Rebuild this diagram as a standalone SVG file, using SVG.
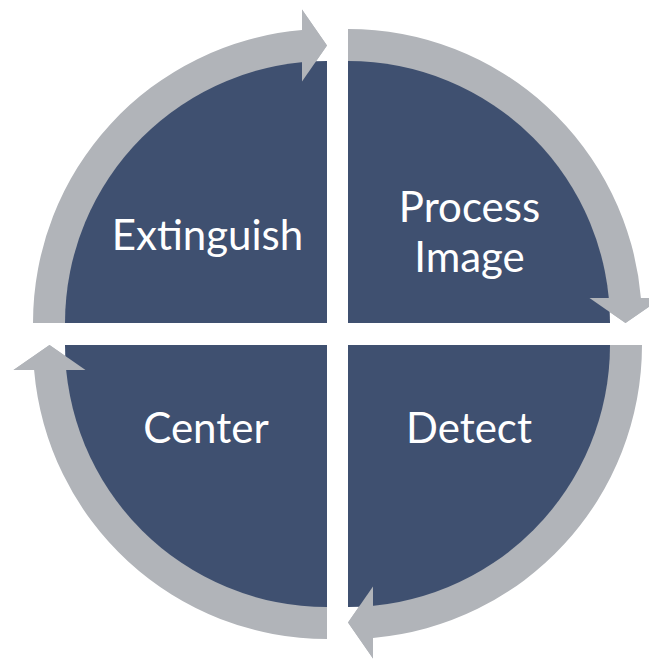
<svg xmlns="http://www.w3.org/2000/svg" width="649" height="660" viewBox="0 0 649 660">
  <style>
    .slice { fill: #3F5070; }
    .ring { fill: #B1B4B9; }
    .label { fill: #FFFFFF; font-family: Lato, "Open Sans", "Liberation Sans", sans-serif; font-size: 42px; text-anchor: middle; }
  </style>
  <rect width="649" height="660" fill="#FFFFFF"/>

  <!-- curved arrows running clockwise around the quadrants -->
  <g id="connectors">
    <path class="ring" d="M 33 323 A 294 294 0 0 1 302 30.1 L 302 9.5 L 327 45.5 L 302 81.5 L 302 63.2 A 261 261 0 0 0 66 323 Z"/>
    <path class="ring" d="M 348 29 A 294 294 0 0 1 640.9 298 L 661.5 298 L 625.5 323 L 589.5 298 L 607.8 298 A 261 261 0 0 0 348 62 Z"/>
    <path class="ring" d="M 642 345 A 294 294 0 0 1 373 637.9 L 373 658.5 L 348 622.5 L 373 586.5 L 373 604.8 A 261 261 0 0 0 609 345 Z"/>
    <path class="ring" d="M 327 639 A 294 294 0 0 1 34.1 370 L 13.5 370 L 49.5 345 L 85.5 370 L 67.2 370 A 261 261 0 0 0 327 606 Z"/>
  </g>

  <g id="extinguish">
    <path class="slice" d="M 327 323 L 65 323 A 262 262 0 0 1 327 61 Z"/>
    <text class="label" x="207.5" y="250">Extinguish</text>
  </g>
  <g id="process-image">
    <path class="slice" d="M 348 323 L 348 61 A 262 262 0 0 1 610 323 Z"/>
    <text class="label" x="469.5" y="222">Process</text>
    <text class="label" x="469.5" y="272">Image</text>
  </g>
  <g id="detect">
    <path class="slice" d="M 348 345 L 610 345 A 262 262 0 0 1 348 607 Z"/>
    <text class="label" x="469" y="443">Detect</text>
  </g>
  <g id="center">
    <path class="slice" d="M 327 345 L 327 607 A 262 262 0 0 1 65 345 Z"/>
    <text class="label" x="206" y="443">Center</text>
  </g>

  <!-- arrowheads sit above the slices they overlap -->
  <g id="arrowheads">
    <path class="ring" d="M 302 9.5 L 327 45.5 L 302 81.5 Z"/>
    <path class="ring" d="M 661.5 298 L 625.5 323 L 589.5 298 Z"/>
    <path class="ring" d="M 373 658.5 L 348 622.5 L 373 586.5 Z"/>
    <path class="ring" d="M 13.5 370 L 49.5 345 L 85.5 370 Z"/>
  </g>
</svg>
